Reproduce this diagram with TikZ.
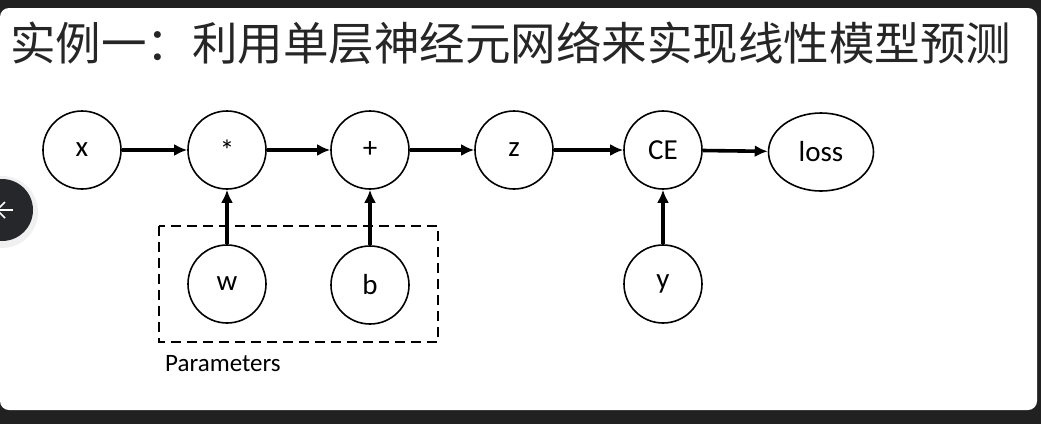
\documentclass[tikz,border=0pt]{standalone}
\usepackage{fontspec}
\setmainfont{Carlito}
\newfontfamily\cjk{Noto Sans CJK SC}
\usetikzlibrary{arrows.meta}
\usetikzlibrary{shapes.geometric}
\definecolor{frame}{HTML}{212121}
\definecolor{button}{HTML}{26272B}
\tikzset{vertex/.style = {draw, circle, line width = 1.6pt, inner sep = 0pt, minimum size = 78pt,
    font = \fontsize{29}{29}\selectfont}}
\tikzset{flow/.style = {line width = 3.6pt, -{Latex[length=13pt, width=12pt]}}}

\begin{document}
\begin{tikzpicture}[x=1pt, y=-1pt]
    \fill [frame] (0, 0) rectangle (1041, 424);
    \useasboundingbox (0, 0) rectangle (1041, 424);
    \fill [white, rounded corners=9pt] (0, 8) rectangle (1037, 410);

    \node [anchor=west, inner sep=0pt, text=black!85, font=\cjk\fontsize{45.5}{45.5}\selectfont]
        (title) at (10, 43) {实例一：利用单层神经元网络来实现线性模型预测};

    % forward chain
    \node [vertex] (x) at (82, 150) {x};
    \node [vertex] (mul) at (227, 150) {*};
    \node [vertex] (add) at (370, 150) {+};
    \node [vertex] (z) at (514, 150) {z};
    \node [vertex] (ce) at (663, 150) {CE};
    \node [vertex, ellipse, minimum width = 105pt, minimum height = 78pt] (loss) at (821, 152) {loss};

    % inputs from below
    \node [vertex] (w) at (227, 284) {w};
    \node [vertex] (b) at (370, 285) {b};
    \node [vertex] (y) at (663, 284) {y};

    \draw [flow] (x) -- (mul);
    \draw [flow] (mul) -- (add);
    \draw [flow] (add) -- (z);
    \draw [flow] (z) -- (ce);
    \draw [flow] (ce) -- (loss);
    \draw [flow] (w) -- (mul);
    \draw [flow] (b) -- (add);
    \draw [flow] (y) -- (ce);

    \draw [line width=1.5pt, dash pattern=on 10pt off 6pt] (159, 226) rectangle (438, 342);
    \node [anchor=west, inner sep=0pt, font=\fontsize{25}{25}\selectfont] (params) at (165, 364) {Parameters};

    % side button
    \fill [black, opacity=0.06] (2, 212) circle [radius=36pt];
    \fill [button] (2, 210) circle [radius=31pt];
    \draw [white, line width=1.6pt] (13, 210) -- (-3, 210);
    \draw [white, line width=1.6pt] (5, 202) -- (-3, 210) -- (5, 218);
  \end{tikzpicture}
\end{document}
